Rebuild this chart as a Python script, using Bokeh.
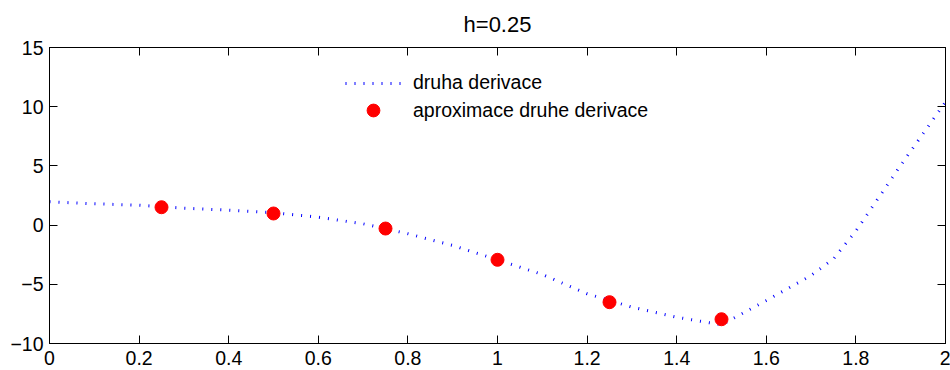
from bokeh.plotting import figure
from bokeh.models import Range1d, LinearAxis, FixedTicker, Legend, LegendItem
from bokeh.embed import file_html
from bokeh.resources import INLINE

# exact second derivative
x_exact = [0.0, 0.1, 0.2, 0.3, 0.4, 0.5, 0.6, 0.7, 0.8, 0.9, 1.0, 1.1, 1.2,
           1.3, 1.4, 1.5, 1.6, 1.7, 1.75, 1.8, 1.9, 2.0]
y_exact = [1.97, 1.80, 1.68, 1.43, 1.26, 1.04, 0.67, 0.11, -0.73, -1.72, -2.93,
           -4.17, -5.80, -6.93, -7.78, -8.42, -6.37, -4.26, -2.85, -0.50, 5.05, 10.4]

# approximation with h = 0.25
x_approx = [0.25, 0.5, 0.75, 1.0, 1.25, 1.5]
y_approx = [1.51, 0.98, -0.29, -2.93, -6.51, -7.95]

x_ticks = [0, 0.2, 0.4, 0.6, 0.8, 1, 1.2, 1.4, 1.6, 1.8, 2]
x_tick_labels = ["0", "0.2", "0.4", "0.6", "0.8", "1", "1.2", "1.4", "1.6", "1.8", "2"]
y_ticks = [-10, -5, 0, 5, 10, 15]
y_tick_labels = ["\u221210", "\u22125", "0", "5", "10", "15"]

FONT = "Liberation Sans"
FS = "19.5px"

p = figure(frame_width=896, frame_height=296, output_backend="svg", toolbar_location=None,
           x_range=Range1d(0, 2), y_range=Range1d(-10, 15),
           min_border_left=49, min_border_right=5, min_border_top=47, min_border_bottom=27,
           title="h=0.25")
p.xgrid.visible = False
p.ygrid.visible = False
p.outline_line_color = "black"
p.background_fill_color = "white"
p.border_fill_color = "white"

p.title.align = "center"
p.title.vertical_align = "middle"
p.title.text_font = FONT
p.title.text_font_size = "22px"
p.title.text_font_style = "normal"
p.title.text_color = "black"
p.title.standoff = 20


def style_axis(ax, ticks, labels, show_labels, standoff):
    ax.ticker = FixedTicker(ticks=ticks)
    ax.major_tick_in = 8
    ax.major_tick_out = 0
    ax.minor_tick_in = 0
    ax.minor_tick_out = 0
    ax.axis_line_color = "black"
    ax.major_tick_line_color = "black"
    ax.major_label_standoff = standoff
    if show_labels:
        ax.major_label_overrides = dict(zip(ticks, labels))
        ax.major_label_text_font = FONT
        ax.major_label_text_font_size = FS
        ax.major_label_text_color = "black"
    else:
        ax.major_label_text_font_size = "0px"
        ax.major_label_text_color = None


style_axis(p.xaxis[0], x_ticks, x_tick_labels, True, 7)
style_axis(p.yaxis[0], y_ticks, y_tick_labels, True, 6)

top = LinearAxis()
style_axis(top, x_ticks, x_tick_labels, False, 0)
p.add_layout(top, "above")
right = LinearAxis()
style_axis(right, y_ticks, y_tick_labels, False, 0)
p.add_layout(right, "right")

r_line = p.line(x_exact, y_exact, line_color="#0000ff", line_width=3, line_dash="1 8")
r_pts = p.scatter(x_approx, y_approx, size=13, fill_color="#ff0000", line_color="#ff0000")

common = dict(glyph_width=56, label_standoff=12, spacing=0, padding=0, margin=0,
              border_line_color=None, background_fill_alpha=0,
              label_text_font=FONT, label_text_font_size=FS, label_text_color="black")
legend1 = Legend(items=[LegendItem(label="druha derivace", renderers=[r_line])],
                 location=(296, 249), glyph_height=20, label_height=20, **common)
legend2 = Legend(items=[LegendItem(label="aproximace druhe derivace", renderers=[r_pts])],
                 location=(296, 217), glyph_height=32, label_height=32, **common)
p.add_layout(legend1, "center")
p.add_layout(legend2, "center")

open("out.html", "w").write(file_html(p, INLINE))
